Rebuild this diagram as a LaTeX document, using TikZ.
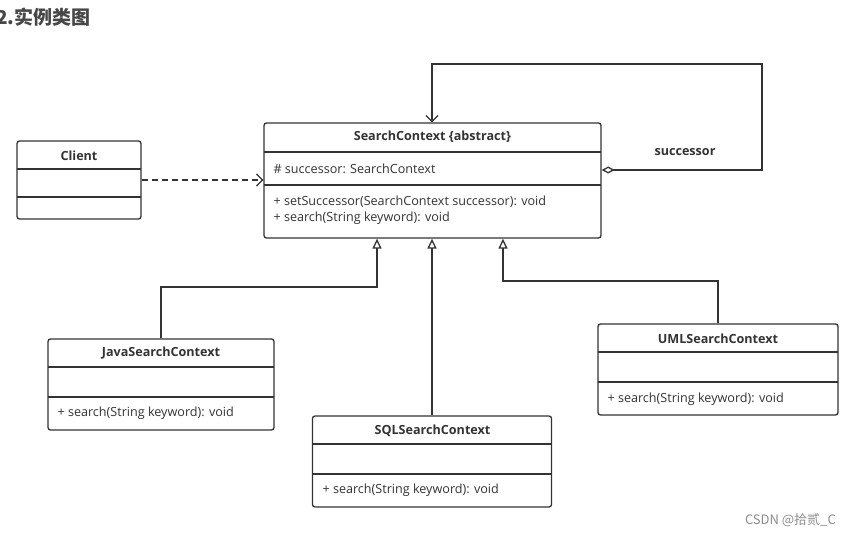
\documentclass[tikz,border=0pt]{standalone}
\usepackage{fontspec}
\setmainfont{Open Sans}
\newfontfamily\cjk{Noto Sans CJK SC}
\usetikzlibrary{arrows.meta,calc}
\definecolor{ln}{HTML}{333333}
\definecolor{tx}{HTML}{333333}
\tikzset{
  classbox/.style={draw=ln, line width=1.3pt, rounded corners=2.5pt, inner sep=0pt, fill=white},
  divider/.style={draw=ln, line width=1.2pt},
  cname/.style={font=\fontsize{12.6}{14}\selectfont\bfseries, text=tx},
  member/.style={font=\fontsize{12.6}{16}\selectfont, text=tx, anchor=west, align=left},
  conn/.style={draw=ln, line width=1.3pt},
  dep/.style={conn, dashed, dash pattern=on 6pt off 4pt, -{Straight Barb[length=6pt,width=12pt]}},
  inh/.style={conn, -{Triangle[open,length=10pt,width=9pt,fill=white]}},
  agg/.style={conn, {Diamond[open,length=13pt,width=7pt,fill=white]}-{Straight Barb[length=6pt,width=12pt]}},
}
\begin{document}
\begin{tikzpicture}[x=1pt,y=-1pt]
\useasboundingbox (0,0) rectangle (851,537);
\fill[white] (0,0) rectangle (851,537);

% title
\node[anchor=west, font=\cjk\fontsize{19}{22}\selectfont\bfseries, text=black!72, inner sep=0pt] (title) at (-4,17) {2.实例类图};

% SearchContext
\node[classbox, minimum width=337pt, minimum height=115pt] (sc) at (432.5,180.5) {};
\draw[divider] (264,152) -- (601,152);
\draw[divider] (264,185) -- (601,185);
\node[cname] (scn) at (432.5,137) {SearchContext \{abstract\}};
\node[member] (sca) at (270,169) {\# successor: SearchContext};
\node[member] (scm) at (270,210.5) {+ setSuccessor(SearchContext successor): void\\+ search(String keyword): void};

% Client
\node[classbox, minimum width=124pt, minimum height=78pt] (client) at (79,180) {};
\draw[divider] (17,169) -- (141,169);
\draw[divider] (17,197) -- (141,197);
\node[cname] (clientn) at (79,155.5) {Client};

% JavaSearchContext
\node[classbox, minimum width=226pt, minimum height=91pt] (java) at (161,384.5) {};
\draw[divider] (48,367) -- (274,367);
\draw[divider] (48,397) -- (274,397);
\node[cname] (javan) at (161,353) {JavaSearchContext};
\node[member] (javam) at (54,413) {+ search(String keyword): void};

% SQLSearchContext
\node[classbox, minimum width=239pt, minimum height=91pt] (sql) at (432,461.5) {};
\draw[divider] (313,444) -- (552,444);
\draw[divider] (313,474) -- (552,474);
\node[cname] (sqln) at (432.5,430.5) {SQLSearchContext};
\node[member] (sqlm) at (319,490.5) {+ search(String keyword): void};

% UMLSearchContext
\node[classbox, minimum width=240pt, minimum height=91pt] (uml) at (718,369.5) {};
\draw[divider] (598,352) -- (838,352);
\draw[divider] (598,382) -- (838,382);
\node[cname] (umln) at (718,338.5) {UMLSearchContext};
\node[member] (umlm) at (604,399) {+ search(String keyword): void};

% dependency
\draw[dep] (client.east) -- (client.east -| sc.west);

% self association
\coordinate (aggs) at (sc.east |- 0,170);
\coordinate (aggr) at (762,170);
\coordinate (aggt) at (762,64);
\coordinate (aggl) at (432,64);
\draw[agg] (aggs) -- (aggr) -- (aggt) -- (aggl) -- (aggl |- sc.north);
\node[font=\fontsize{12.6}{14}\selectfont\bfseries, text=tx] (succ) at (685,152) {successor};

% generalizations
\coordinate (j1) at (java.north |- 0,287);
\coordinate (j2) at (377,287);
\draw[inh] (java.north) -- (j1) -- (j2) -- (j2 |- sc.south);
\draw[inh] (sql.north) -- (sql.north |- sc.south);
\coordinate (u1) at (uml.north |- 0,281);
\coordinate (u2) at (503,281);
\draw[inh] (uml.north) -- (u1) -- (u2) -- (u2 |- sc.south);

% watermark
\node[anchor=east, font=\cjk\fontsize{13}{15}\selectfont, text=black!45, inner sep=0pt] (wm) at (836,520) {CSDN @拾贰\_C};
\end{tikzpicture}
\end{document}
